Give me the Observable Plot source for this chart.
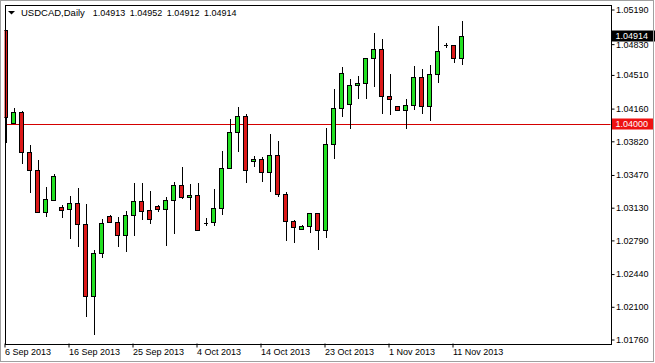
<!DOCTYPE html>
<html>
<head>
<meta charset="utf-8">
<script src="https://cdn.jsdelivr.net/npm/d3@7"></script>
<script src="https://cdn.jsdelivr.net/npm/@observablehq/plot@0.6"></script>
<style>
  html, body { margin: 0; padding: 0; background: #fff; }
  #chart svg { display: block; }
</style>
</head>
<body>
<div id="chart"></div>
<script>
// ---- data ----
const dates = [
  "2013-09-06","2013-09-08","2013-09-09","2013-09-10","2013-09-11","2013-09-12","2013-09-13","2013-09-15",
  "2013-09-16","2013-09-17","2013-09-18","2013-09-19","2013-09-20","2013-09-22","2013-09-23","2013-09-24",
  "2013-09-25","2013-09-26","2013-09-27","2013-09-29","2013-09-30","2013-10-01","2013-10-02","2013-10-03",
  "2013-10-04","2013-10-06","2013-10-07","2013-10-08","2013-10-09","2013-10-10","2013-10-11","2013-10-13",
  "2013-10-14","2013-10-15","2013-10-16","2013-10-17","2013-10-18","2013-10-20","2013-10-21","2013-10-22",
  "2013-10-23","2013-10-24","2013-10-25","2013-10-27","2013-10-28","2013-10-29","2013-10-30","2013-10-31",
  "2013-11-01","2013-11-03","2013-11-04","2013-11-05","2013-11-06","2013-11-07","2013-11-08","2013-11-10",
  "2013-11-11","2013-11-12"
];
const open = [
  1.04975,1.04005,1.04120,1.03704,1.03520,1.03080,1.03208,1.03132,
  1.03111,1.03177,1.02958,1.02203,1.02654,1.03042,1.02976,1.02837,
  1.03049,1.03194,1.03101,1.03145,1.03111,1.03201,1.03364,1.03236,
  1.03260,1.02976,1.02974,1.03122,1.03535,1.03912,1.04081,1.03610,
  1.03631,1.03496,1.03672,1.03267,1.02982,1.02903,1.02938,1.03070,
  1.02893,1.03787,1.04161,1.04203,1.04396,1.04421,1.04681,1.04774,
  1.04282,1.04182,1.04143,1.04192,1.04483,1.04185,1.04514,1.04826,
  1.04819,1.04677
];
const high = [
  1.04975,1.04167,1.04133,1.03780,1.03624,1.03346,1.03485,1.03156,
  1.03249,1.03330,1.03166,1.02688,1.03010,1.03052,1.03034,1.03094,
  1.03382,1.03382,1.03301,1.03153,1.03236,1.03392,1.03554,1.03374,
  1.03382,1.03018,1.03322,1.03717,1.04047,1.04178,1.04102,1.03668,
  1.03655,1.03901,1.03821,1.03294,1.03000,1.02948,1.03073,1.03076,
  1.03956,1.04362,1.04593,1.04469,1.04497,1.04691,1.04947,1.04881,
  1.04518,1.04192,1.04258,1.04601,1.04570,1.04611,1.05020,1.04843,
  1.04826,1.05068
];
const low = [
  1.03800,1.03998,1.03579,1.03284,1.03073,1.03034,1.03201,1.03024,
  1.02806,1.02722,1.01995,1.01805,1.02612,1.02970,1.02722,1.02670,
  1.02837,1.03000,1.02958,1.03086,1.02733,1.02855,1.03221,1.03104,
  1.02883,1.02938,1.02938,1.03055,1.03530,1.03704,1.03382,1.03554,
  1.03398,1.03294,1.03236,1.02785,1.02758,1.02901,1.02868,1.02695,
  1.02810,1.03641,1.04074,1.03953,1.04258,1.04255,1.04386,1.04099,
  1.04091,1.04143,1.03953,1.04143,1.04099,1.04032,1.04431,1.04795,
  1.04629,1.04611
];
const close = [
  1.04067,1.04120,1.03704,1.03520,1.03080,1.03215,1.03457,1.03104,
  1.03177,1.02955,1.02203,1.02654,1.02966,1.02976,1.02837,1.03049,
  1.03194,1.03090,1.03007,1.03111,1.03205,1.03364,1.03232,1.03260,
  1.02889,1.02976,1.03122,1.03537,1.03912,1.04081,1.03517,1.03631,
  1.03496,1.03672,1.03267,1.02982,1.02924,1.02938,1.03070,1.02893,
  1.03787,1.04161,1.04525,1.04400,1.04421,1.04681,1.04774,1.04282,
  1.04255,1.04143,1.04192,1.04483,1.04185,1.04514,1.04753,1.04826,
  1.04677,1.04914
];
const xTickDates = ["2013-09-06","2013-09-16","2013-09-25","2013-10-04","2013-10-14","2013-10-23","2013-11-01","2013-11-11"];
const xTickLabels = ["6 Sep 2013","16 Sep 2013","25 Sep 2013","4 Oct 2013","14 Oct 2013","23 Oct 2013","1 Nov 2013","11 Nov 2013"];
const yTicks = [1.01760,1.02100,1.02440,1.02790,1.03130,1.03470,1.03820,1.04160,1.04510,1.04830,1.05190];
const levelLine = 1.04000;
const bidPrice = 1.04914;
const titleSymbol = "USDCAD,Daily";
const titleOHLC = ["1.04913","1.04952","1.04912","1.04914"];

// ---- build table ----
const bars = dates.map((d, i) => ({i, date: d, open: open[i], high: high[i], low: low[i], close: close[i]}));
const dojis = bars.filter(d => d.open === d.close);
const xTickIndex = xTickDates.map(d => dates.indexOf(d));

const GREEN = "#22e022", RED = "#dc1818";
const FONT = "'Liberation Sans', Arial, sans-serif";

const plot = Plot.plot({
  width: 655,
  height: 363,
  marginLeft: 4.5,
  marginTop: 4.5,
  marginRight: 44.5,
  marginBottom: 19.5,
  style: {fontFamily: FONT, fontSize: "9px", color: "#000", background: "#fff", overflow: "visible"},
  x: {type: "linear", domain: [0, dates.length - 1], range: [5.5, 5.5 + 8 * (dates.length - 1)], axis: null, label: null},
  y: {type: "linear", domain: [yTicks[0], yTicks[yTicks.length - 1]], range: [339.5, 9.5], axis: null, label: null},
  marks: [
    Plot.ruleY([levelLine], {stroke: "#d40000", strokeWidth: 1, clip: true, shapeRendering: "crispEdges"}),
    Plot.ruleX(bars, {x: "i", y1: "low", y2: "high", stroke: "#000", clip: true, shapeRendering: "crispEdges"}),
    Plot.rect(bars, {
      x1: d => d.i - 0.25, x2: d => d.i + 0.25, y1: "open", y2: "close",
      fill: d => d.close >= d.open ? GREEN : RED,
      stroke: "#000", strokeWidth: 1, clip: true, shapeRendering: "crispEdges"
    }),
    Plot.ruleY(dojis, {y: "open", x1: d => d.i - 0.25, x2: d => d.i + 0.25, stroke: "#000", clip: true, shapeRendering: "crispEdges"}),
    Plot.axisX({
      anchor: "bottom", ticks: xTickIndex, label: null,
      tickFormat: i => xTickLabels[xTickIndex.indexOf(i)],
      tickSize: 4, tickPadding: 1, textAnchor: "start", dx: -1,
      fontSize: 9, fill: "#000", stroke: "#000"
    }),
    Plot.axisY({
      anchor: "right", ticks: yTicks, tickFormat: d => d.toFixed(5), label: null,
      tickSize: 3, tickPadding: 2, fontSize: 9, fill: "#000", stroke: "#000"
    }),
    Plot.frame({stroke: "#000", shapeRendering: "crispEdges"}),
    Plot.text([titleSymbol], {text: d => d, frameAnchor: "top-left", dx: 16, dy: 4.5, textAnchor: "start", lineAnchor: "top", fontSize: 9.5, fill: "#000"}),
    Plot.text([titleOHLC.join("\u2002")], {text: d => d, frameAnchor: "top-left", dx: 87.8, dy: 4.5, textAnchor: "start", lineAnchor: "top", fontSize: 9, fill: "#000"})
  ]
});

document.getElementById("chart").appendChild(plot);

// ---- price labels on the right axis & window chrome ----
const yScale = plot.scale("y");
const svg = d3.select(plot);
const labels = [
  {v: bidPrice, bg: "#000000", w: 43},
  {v: levelLine, bg: "#ee1111", w: 41}
];
for (const l of labels) {
  const py = yScale.apply(l.v);
  const g = svg.append("g");
  g.append("rect").attr("x", 612).attr("y", Math.round(py) - 5.5).attr("width", l.w).attr("height", 11).attr("fill", l.bg);
  g.append("text").attr("x", 615.5).attr("y", Math.round(py)).attr("dy", "0.34em")
    .attr("text-anchor", "start")
    .attr("fill", "#fff").attr("font-family", FONT).attr("font-size", 9)
    .text(l.v.toFixed(5));
}
// dropdown triangle in front of the title
svg.append("polygon").attr("points", "8,11 15,11 11.5,14.5").attr("fill", "#000");
// window border
svg.append("rect").attr("x", 0.5).attr("y", 0.5).attr("width", 653).attr("height", 361)
  .attr("fill", "none").attr("stroke", "#a0a0a0");
</script>
</body>
</html>
